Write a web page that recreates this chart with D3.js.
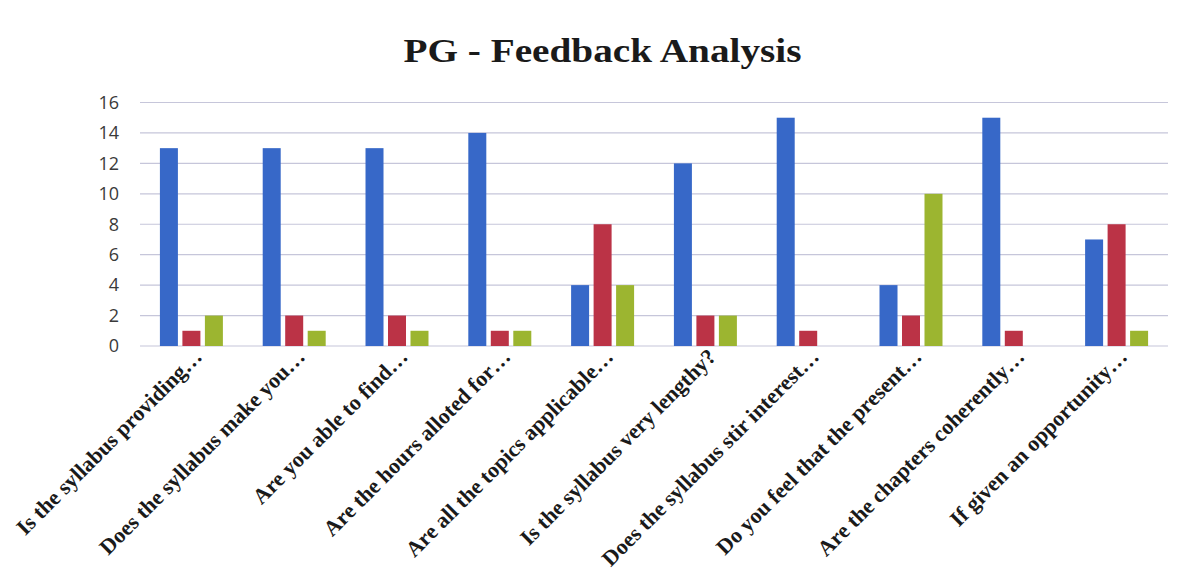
<!DOCTYPE html>
<html>
<head>
<meta charset="utf-8">
<script src="https://cdn.jsdelivr.net/npm/d3@7"></script>
<style>
  html, body { margin: 0; padding: 0; background: #fff; }
  svg { display: block; }
</style>
</head>
<body>
<svg id="chart" width="1190" height="585"></svg>
<script>
const categories = [
  "Is the syllabus providing…",
  "Does the syllabus make you…",
  "Are you able to find…",
  "Are the hours alloted for…",
  "Are all the topics applicable…",
  "Is the syllabus very lengthy?",
  "Does the syllabus stir interest…",
  "Do you feel that the present…",
  "Are the chapters coherently…",
  "If given an opportunity…"
];
const seriesNames = ["Series1", "Series2", "Series3"];
const series1 = [13, 13, 13, 14, 4, 12, 15, 4, 15, 7];
const series2 = [1, 2, 2, 1, 8, 2, 1, 2, 1, 8];
const series3 = [2, 1, 1, 1, 4, 2, 0, 10, 0, 1];
const yTicks = [0, 2, 4, 6, 8, 10, 12, 14, 16];
const colors = ["#3768c8", "#bb3346", "#9cb530"];

const seriesValues = [series1, series2, series3];
const svg = d3.select("#chart");

const plotLeft = 140, plotRight = 1168, plotTop = 102.5, plotBottom = 346;

const x0 = d3.scaleBand().domain(categories).range([plotLeft, plotRight]).padding(0);
const x1 = d3.scaleBand().domain(seriesNames).range([0, x0.bandwidth()])
  .paddingInner(0.2).paddingOuter(0.885);
const y = d3.scaleLinear().domain([0, 16]).range([plotBottom, plotTop]);

// gridlines
svg.append("g")
  .selectAll("line")
  .data(yTicks)
  .join("line")
  .attr("x1", plotLeft).attr("x2", plotRight)
  .attr("y1", d => y(d)).attr("y2", d => y(d))
  .attr("stroke", "#c6c6da")
  .attr("stroke-width", 1.2);

// y axis labels
const yAxis = d3.axisLeft(y).tickValues(yTicks).tickSize(0).tickPadding(21);
const gy = svg.append("g").attr("transform", `translate(${plotLeft},0)`).call(yAxis);
gy.select(".domain").remove();
gy.selectAll("text")
  .attr("font-family", "'Open Sans', 'Liberation Sans', sans-serif")
  .attr("font-size", 18)
  .attr("fill", "#3a3a3a");

// bars
const data = categories.map((c, i) => ({
  cat: c,
  vals: seriesNames.map((s, j) => ({ s, j, v: seriesValues[j][i] }))
}));

const groups = svg.append("g")
  .selectAll("g")
  .data(data)
  .join("g")
  .attr("transform", d => `translate(${x0(d.cat)},0)`);

groups.selectAll("rect")
  .data(d => d.vals.filter(v => v.v > 0))
  .join("rect")
  .attr("x", d => x1(d.s))
  .attr("width", x1.bandwidth())
  .attr("y", d => y(d.v))
  .attr("height", d => y(0) - y(d.v))
  .attr("fill", d => colors[d.j]);

// x labels
const xAxis = d3.axisBottom(x0).tickSize(0).tickPadding(0);
const gx = svg.append("g").attr("transform", `translate(0,${plotBottom})`).call(xAxis);
gx.select(".domain").remove();
gx.selectAll("text")
  .attr("font-family", "'Liberation Serif', 'Times New Roman', serif")
  .attr("font-weight", "bold")
  .attr("font-size", 22)
  .attr("fill", "#1a1a1a")
  .attr("text-anchor", "end")
  .attr("dy", 0)
  .attr("y", 0)
  .attr("transform", "translate(12,12) rotate(-45)");

// title
svg.append("text")
  .attr("x", (403 + 802) / 2)
  .attr("y", 62)
  .attr("text-anchor", "middle")
  .attr("font-family", "'Liberation Serif', 'Times New Roman', serif")
  .attr("font-weight", "bold")
  .attr("font-size", 33)
  .attr("fill", "#1a1a1a")
  .attr("textLength", 398)
  .attr("lengthAdjust", "spacingAndGlyphs")
  .text("PG - Feedback Analysis");
</script>
</body>
</html>
